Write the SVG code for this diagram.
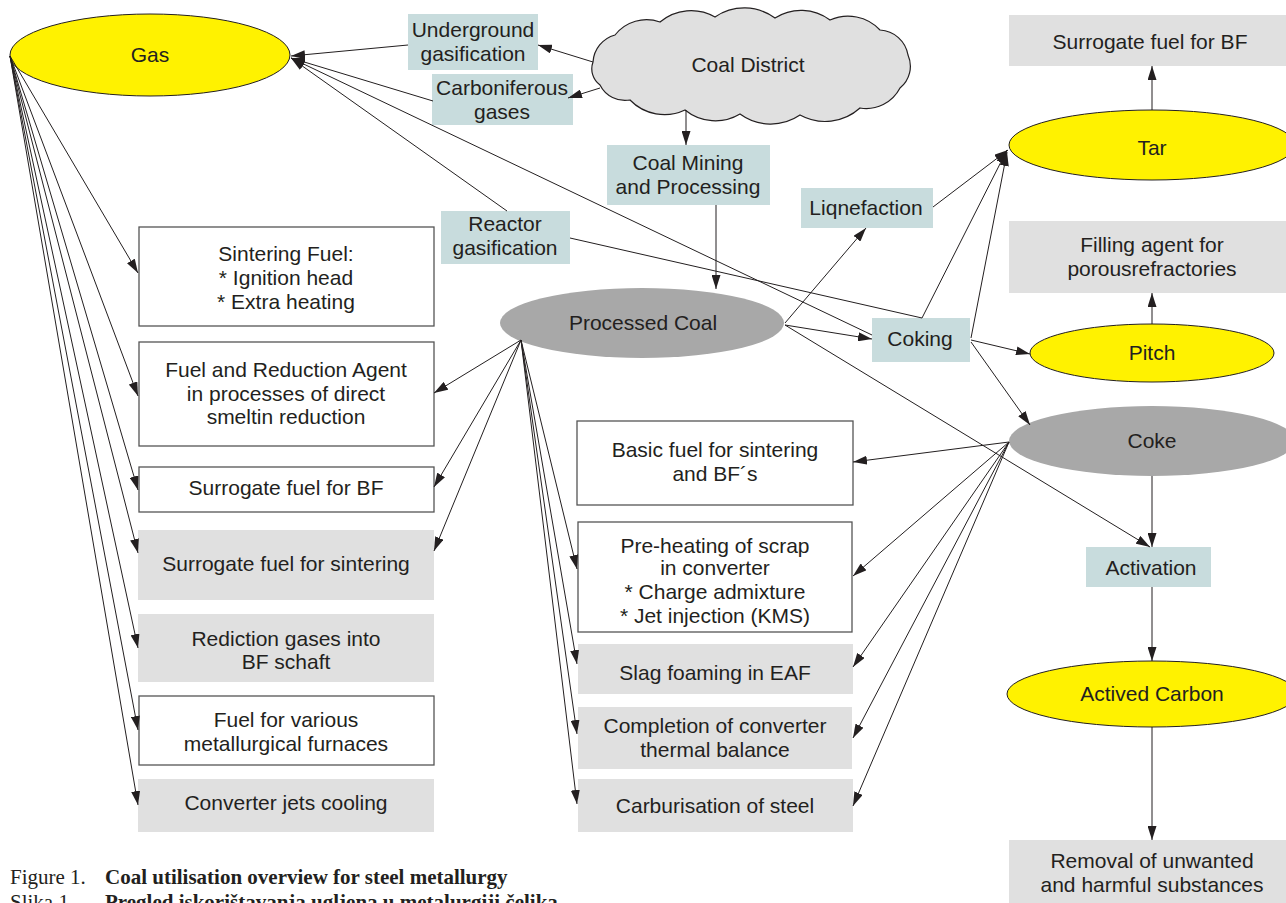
<svg xmlns="http://www.w3.org/2000/svg" width="1286" height="903" viewBox="0 0 1286 903">
<style>
text{font-family:"Liberation Sans",Arial,sans-serif;font-size:21px;fill:#231f20;text-anchor:middle}
.cap{font-family:"Liberation Serif","Times New Roman",serif;font-size:21px;text-anchor:start}
.b{font-weight:bold}
.blue{fill:#c8dcdd}
.grey{fill:#e0e0e0}
.white{fill:#fff;stroke:#555;stroke-width:1.3}
.yel{fill:#fff200;stroke:#231f20;stroke-width:1}
.dk{fill:#a8a8a8}
.c line,.c polyline{stroke:#231f20;stroke-width:1;fill:none;marker-end:url(#ah)}
</style>
<defs>
<marker id="ah" viewBox="0 0 14 9" refX="14" refY="4.5" markerWidth="14" markerHeight="9" markerUnits="userSpaceOnUse" orient="auto">
<path d="M0,0 L14,4.5 L0,9 z" fill="#231f20"/>
</marker>
</defs>
<rect width="1286" height="903" fill="#fff"/>

<g id="gas"><ellipse class="yel" cx="150" cy="55" rx="140" ry="41"/><text x="150" y="62">Gas</text></g>
<g id="coal-district"><path fill="#e0e0e0" stroke="#231f20" stroke-width="1.2" d="M593,62 A30,30 0 0 1 615,35 A40,40 0 0 1 660,22 A48,48 0 0 1 715,17 A52,52 0 0 1 775,18 A48,48 0 0 1 830,20 A44,44 0 0 1 880,30 A30,30 0 0 1 908,55 A28,28 0 0 1 900,88 A38,38 0 0 1 860,108 A52,52 0 0 1 800,115 A52,52 0 0 1 740,114 A48,48 0 0 1 685,110 A48,48 0 0 1 630,100 A28,28 0 0 1 600,85 A20,20 0 0 1 593,62 z"/><text x="748" y="72">Coal District</text></g>
<g id="underground"><rect class="blue" x="408" y="14" width="130" height="56"/><text x="473" y="37">Underground</text><text x="473" y="61">gasification</text></g>
<g id="carboniferous"><rect class="blue" x="432" y="74" width="141" height="51"/><text x="502" y="95">Carboniferous</text><text x="502" y="119">gases</text></g>
<g id="coal-mining"><rect class="blue" x="607" y="145" width="163" height="60"/><text x="688" y="170">Coal Mining</text><text x="688" y="194">and Processing</text></g>
<g id="reactor"><rect class="blue" x="441" y="211" width="129" height="53"/><text x="505" y="231">Reactor</text><text x="505" y="255">gasification</text></g>
<g id="liqnefaction"><rect class="blue" x="801" y="188" width="132" height="40"/><text x="866" y="215">Liqnefaction</text></g>
<g id="processed-coal"><ellipse class="dk" cx="642" cy="323" rx="142" ry="35"/><text x="643" y="330">Processed Coal</text></g>
<g id="coking"><rect class="blue" x="872" y="318" width="98" height="44"/><text x="920" y="346">Coking</text></g>
<g id="surrogate-bf-top"><rect class="grey" x="1009" y="15" width="277" height="51"/><text x="1150" y="49">Surrogate fuel for BF</text></g>
<g id="tar"><ellipse class="yel" cx="1152" cy="145" rx="143" ry="35"/><text x="1152" y="155">Tar</text></g>
<g id="filling"><rect class="grey" x="1009" y="221" width="277" height="72"/><text x="1152" y="252">Filling agent for</text><text x="1152" y="276">porousrefractories</text></g>
<g id="pitch"><ellipse class="yel" cx="1152" cy="353" rx="122" ry="29"/><text x="1152" y="360">Pitch</text></g>
<g id="coke"><ellipse class="dk" cx="1152" cy="441" rx="143" ry="35"/><text x="1152" y="448">Coke</text></g>
<g id="activation"><rect class="blue" x="1086" y="547" width="125" height="40"/><text x="1151" y="575">Activation</text></g>
<g id="actived-carbon"><ellipse class="yel" cx="1152" cy="694" rx="145" ry="33"/><text x="1152" y="701">Actived Carbon</text></g>
<g id="removal"><rect class="grey" x="1009" y="840" width="277" height="63"/><text x="1152" y="868">Removal of unwanted</text><text x="1152" y="892">and harmful substances</text></g>

<g id="sintering-fuel"><rect class="white" x="139" y="227" width="295" height="99"/><text x="286" y="261">Sintering Fuel:</text><text x="286" y="285">* Ignition head</text><text x="286" y="309">* Extra heating</text></g>
<g id="fuel-reduction"><rect class="white" x="139" y="342" width="295" height="104"/><text x="286" y="377">Fuel and Reduction Agent</text><text x="286" y="401">in processes of direct</text><text x="286" y="424">smeltin reduction</text></g>
<g id="surrogate-bf"><rect class="white" x="139" y="467" width="295" height="45"/><text x="286" y="495">Surrogate fuel for BF</text></g>
<g id="surrogate-sintering"><rect class="grey" x="138" y="530" width="296" height="70"/><text x="286" y="571">Surrogate fuel for sintering</text></g>
<g id="rediction"><rect class="grey" x="138" y="614" width="296" height="68"/><text x="286" y="646">Rediction gases into</text><text x="286" y="669">BF schaft</text></g>
<g id="fuel-various"><rect class="white" x="139" y="696" width="295" height="69"/><text x="286" y="727">Fuel for various</text><text x="286" y="751">metallurgical furnaces</text></g>
<g id="converter-jets"><rect class="grey" x="138" y="779" width="296" height="53"/><text x="286" y="810">Converter jets cooling</text></g>

<g id="basic-fuel"><rect class="white" x="577" y="421" width="276" height="84"/><text x="715" y="457">Basic fuel for sintering</text><text x="715" y="481">and BF´s</text></g>
<g id="pre-heating"><rect class="white" x="578" y="522" width="274" height="110"/><text x="715" y="553">Pre-heating of scrap</text><text x="715" y="575">in converter</text><text x="715" y="599">* Charge admixture</text><text x="715" y="623">* Jet injection (KMS)</text></g>
<g id="slag"><rect class="grey" x="578" y="644" width="275" height="50"/><text x="715" y="680">Slag foaming in EAF</text></g>
<g id="completion"><rect class="grey" x="578" y="707" width="274" height="62"/><text x="715" y="733">Completion of converter</text><text x="715" y="757">thermal balance</text></g>
<g id="carburisation"><rect class="grey" x="578" y="779" width="275" height="53"/><text x="715" y="813">Carburisation of steel</text></g>

<g id="connectors" class="c">
<line x1="10" y1="56" x2="138" y2="273"/>
<line x1="10" y1="56" x2="138" y2="396"/>
<line x1="10" y1="56" x2="138" y2="490"/>
<line x1="10" y1="56" x2="138" y2="553"/>
<line x1="10" y1="56" x2="138" y2="648"/>
<line x1="10" y1="56" x2="138" y2="730"/>
<line x1="10" y1="56" x2="138" y2="805"/>
<line x1="408" y1="45" x2="291" y2="56"/>
<line x1="433" y1="101" x2="291" y2="58"/>
<line x1="507" y1="211" x2="291" y2="58"/>
<line x1="872" y1="335" x2="291" y2="58"/>
<line x1="593" y1="62" x2="538" y2="45"/>
<line x1="600" y1="88" x2="568" y2="98"/>
<line x1="686" y1="110" x2="686" y2="145"/>
<line x1="716" y1="205" x2="716" y2="289"/>
<line x1="785" y1="323" x2="866" y2="228"/>
<line x1="785" y1="325" x2="872" y2="339"/>
<line x1="785" y1="325" x2="1150" y2="547"/>
<polyline points="570,238 922,318 1007,150"/>
<line x1="933" y1="207" x2="1008" y2="150"/>
<line x1="971" y1="338" x2="1007" y2="152"/>
<line x1="971" y1="340" x2="1030" y2="354"/>
<line x1="971" y1="342" x2="1030" y2="425"/>
<line x1="1152" y1="110" x2="1152" y2="66"/>
<line x1="1152" y1="324" x2="1152" y2="293"/>
<line x1="1152" y1="476" x2="1152" y2="547"/>
<line x1="1152" y1="587" x2="1152" y2="661"/>
<line x1="1152" y1="727" x2="1152" y2="840"/>
<line x1="521" y1="340" x2="434" y2="393"/>
<line x1="521" y1="340" x2="434" y2="487"/>
<line x1="521" y1="340" x2="434" y2="551"/>
<line x1="521" y1="340" x2="577" y2="569"/>
<line x1="521" y1="340" x2="577" y2="664"/>
<line x1="521" y1="340" x2="577" y2="734"/>
<line x1="521" y1="340" x2="577" y2="804"/>
<line x1="1009" y1="442" x2="853" y2="462"/>
<line x1="1009" y1="442" x2="853" y2="576"/>
<line x1="1009" y1="442" x2="853" y2="667"/>
<line x1="1009" y1="442" x2="853" y2="738"/>
<line x1="1009" y1="442" x2="853" y2="806"/>
</g>

<g id="caption">
<text class="cap" x="10" y="884">Figure 1.</text><text class="cap b" x="105" y="884">Coal utilisation overview for steel metallurgy</text>
<text class="cap" x="10" y="909">Slika 1.</text><text class="cap b" x="105" y="909">Pregled iskorištavanja ugljena u metalurgiji čelika</text>
</g>
</svg>
